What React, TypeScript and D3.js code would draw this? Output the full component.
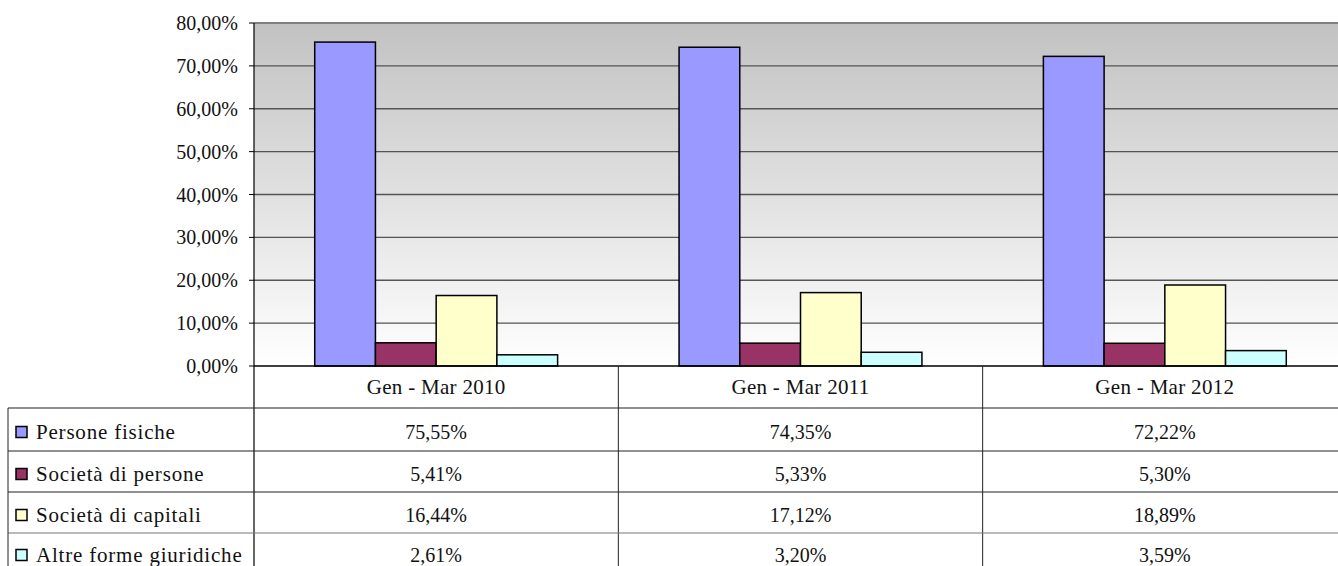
import React from "react";
import * as d3 from "d3";

const categories = ["Gen - Mar 2010", "Gen - Mar 2011", "Gen - Mar 2012"];
const seriesNames = ["Persone fisiche", "Società di persone", "Società di capitali", "Altre forme giuridiche"];
const seriesColors = ["#9999FF", "#993366", "#FFFFCC", "#CCFFFF"];
const personeFisiche = [75.55, 74.35, 72.22];
const societaPersone = [5.41, 5.33, 5.3];
const societaCapitali = [16.44, 17.12, 18.89];
const altreForme = [2.61, 3.2, 3.59];
const yTicks = [0, 10, 20, 30, 40, 50, 60, 70, 80];

const seriesValues = [personeFisiche, societaPersone, societaCapitali, altreForme];

const fmt = (v: number) => v.toFixed(2).replace(".", ",") + "%";

export default function App() {
  const W = 1338, H = 566;
  const left = 254, right = 1347, top = 23, bottom = 366;
  const tableLeft = 8;
  const rowLines = [408, 451, 492, 533];
  const rowBottoms = [451, 492, 533, 572];
  const rowBottom = 575;
  const numStyle: React.CSSProperties = { fontFamily: "Liberation Serif, serif", fontSize: 20 };
  const headStyle: React.CSSProperties = { fontFamily: "Liberation Serif, serif", fontSize: 21, letterSpacing: 0.3 };
  const labStyle: React.CSSProperties = { fontFamily: "Liberation Serif, serif", fontSize: 21, letterSpacing: 0.8 };

  const y = d3.scaleLinear().domain([0, 80]).range([bottom, top]);
  const x0 = d3.scaleBand<string>().domain(categories).range([left, right]).paddingInner(0).paddingOuter(0);
  const x1 = d3.scaleBand<string>().domain(seriesNames).range([0, x0.bandwidth()]).paddingOuter(1).paddingInner(0);

  return (
    <svg width={W} height={H} style={{ position: "absolute", left: 0, top: 0, display: "block" }}>
      <defs>
        <linearGradient id="bg" x1="0" y1="0" x2="0" y2="1">
          <stop offset="0%" stopColor="#c2c2c2" />
          <stop offset="100%" stopColor="#ffffff" />
        </linearGradient>
      </defs>
      <rect x={left} y={top} width={right - left} height={bottom - top} fill="url(#bg)" />
      <line x1={left} x2={right} y1={top} y2={top} stroke="#808080" strokeWidth={2} />
      {yTicks.map((t) => (
        <g key={t}>
          {t !== 0 && t !== 80 && (
            <line x1={left} x2={right} y1={y(t)} y2={y(t)} stroke="#555" strokeWidth={1.3} />
          )}
          <line x1={left - 5} x2={left} y1={y(t)} y2={y(t)} stroke="#000" strokeWidth={1} />
          <text x={238} y={y(t) + 7} textAnchor="end" style={numStyle} fill="#111">
            {fmt(t)}
          </text>
        </g>
      ))}
      {categories.map((c, ci) => (
        <g key={c}>
          {seriesNames.map((s, si) => {
            const v = seriesValues[si][ci];
            const bx = (x0(c) as number) + (x1(s) as number);
            return (
              <rect
                key={s}
                x={bx}
                y={y(v)}
                width={x1.bandwidth()}
                height={bottom - y(v)}
                fill={seriesColors[si]}
                stroke="#000"
                strokeWidth={1.5}
              />
            );
          })}
        </g>
      ))}
      <line x1={left} x2={left} y1={top} y2={rowBottom} stroke="#000" strokeWidth={1.2} />
      <line x1={left} x2={right} y1={bottom} y2={bottom} stroke="#000" strokeWidth={1.5} />
      {categories.map((c, ci) => (
        <g key={"col" + c}>
          {ci > 0 && (
            <line x1={x0(c) as number} x2={x0(c) as number} y1={bottom} y2={rowBottom} stroke="#222" strokeWidth={1} />
          )}
          <text x={(x0(c) as number) + x0.bandwidth() / 2} y={394} textAnchor="middle" style={headStyle} fill="#111">
            {c}
          </text>
        </g>
      ))}
      {rowLines.map((ry, i) => (
        <line key={ry} x1={tableLeft} x2={right} y1={ry} y2={ry} stroke={i === 3 ? "#777" : "#222"} strokeWidth={1.2} />
      ))}
      <line x1={tableLeft} x2={tableLeft} y1={rowLines[0]} y2={rowBottom} stroke="#222" strokeWidth={1} />
      {seriesNames.map((s, si) => {
        const cy = (rowLines[si] + rowBottoms[si]) / 2;
        const base = cy + 9;
        return (
          <g key={"row" + s}>
            <rect x={16} y={base - 12} width={11} height={11} fill={seriesColors[si]} stroke="#000" strokeWidth={1.5} />
            <text x={36} y={base} style={labStyle} fill="#111">
              {s}
            </text>
            {categories.map((c, ci) => (
              <text key={c} x={(x0(c) as number) + x0.bandwidth() / 2} y={base} textAnchor="middle" style={numStyle} fill="#111">
                {fmt(seriesValues[si][ci])}
              </text>
            ))}
          </g>
        );
      })}
    </svg>
  );
}
